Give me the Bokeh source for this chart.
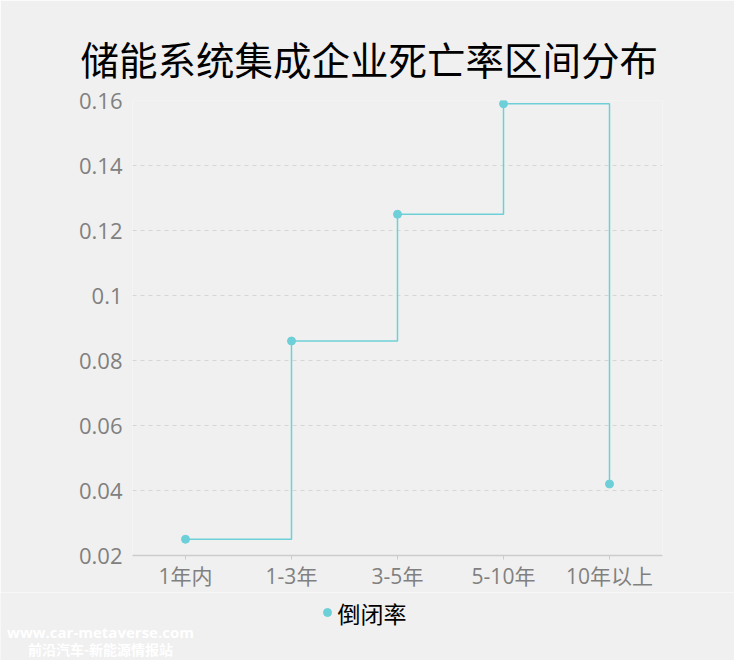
from bokeh.plotting import figure
from bokeh.layouts import column
from bokeh.models import FixedTicker, ColumnDataSource, Range1d, Label
from bokeh.embed import file_html
from bokeh.resources import INLINE

categories = ["1年内", "1-3年", "3-5年", "5-10年", "10年以上"]
rates = [0.025, 0.086, 0.125, 0.159, 0.042]
y_ticks = [0.02, 0.04, 0.06, 0.08, 0.10, 0.12, 0.14, 0.16]
y_tick_labels = ["0.02", "0.04", "0.06", "0.08", "0.1", "0.12", "0.14", "0.16"]
title_text = "储能系统集成企业死亡率区间分布"
series_name = "倒闭率"
watermark = ["www.car-metaverse.com", "前沿汽车-新能源情报站"]

BG = "#f0f0f0"
LINE = "#6dd0d8"
GRAY = "#808080"
FONT = "Open Sans, Noto Sans CJK SC"
CJK = "Noto Sans CJK SC"

p = figure(x_range=categories, y_range=Range1d(0.02, 0.16), width=734, height=592,
           output_backend="svg", toolbar_location=None,
           min_border_left=132, min_border_right=72, min_border_top=100, min_border_bottom=37)
p.frame_align = False
p.background_fill_color = BG
p.border_fill_color = BG
p.outline_line_color = None

src = ColumnDataSource(dict(x=categories, y=rates))
p.step("x", "y", source=src, mode="after", line_color=LINE, line_width=1.5)
p.scatter("x", "y", source=src, size=8, color=LINE)

# axes
p.yaxis.ticker = FixedTicker(ticks=y_ticks)
p.yaxis.major_label_overrides = {t: l for t, l in zip(y_ticks, y_tick_labels)}
p.yaxis.axis_line_color = None
p.yaxis.major_tick_line_color = None
p.yaxis.minor_tick_line_color = None
p.yaxis.major_label_standoff = 4
p.yaxis.major_label_text_font_size = "22px"
p.yaxis.major_label_text_color = GRAY
p.yaxis.major_label_text_font = FONT

p.xaxis.axis_line_color = "#cccccc"
p.xaxis.axis_line_width = 1.5
p.xaxis.major_tick_line_color = "#cccccc"
p.xaxis.major_tick_in = 0
p.xaxis.major_tick_out = 4
p.xaxis.major_label_standoff = 2
p.xaxis.major_label_text_font_size = "21px"
p.xaxis.major_label_text_color = GRAY
p.xaxis.major_label_text_font = FONT

p.xgrid.grid_line_color = None
p.ygrid.ticker = FixedTicker(ticks=y_ticks[1:-1])
p.ygrid.grid_line_color = "#d6d6d6"
p.ygrid.grid_line_dash = "4 4"

# title
p.title.text = title_text
p.title.align = "left"
p.title.offset = -52
p.title.standoff = 30
p.title.text_font_size = "38.5px"
p.title.text_font = CJK
p.title.text_font_style = "normal"
p.title.text_color = "#000000"

# bottom strip: legend + watermark (page y = 592 + (68 - y))
q = figure(width=734, height=68, x_range=Range1d(0, 734), y_range=Range1d(0, 68),
           x_axis_type=None, y_axis_type=None, output_backend="svg", toolbar_location=None,
           min_border=0)
q.frame_align = False
q.background_fill_color = BG
q.border_fill_color = BG
q.outline_line_color = None
q.scatter(x=[327], y=[48], size=8, color=LINE)
q.add_layout(Label(x=337, y=48, text=series_name, text_align="left", text_baseline="middle",
                   text_font_size="23px", text_color="#000000", text_font=CJK))
q.add_layout(Label(x=100, y=29, text=watermark[0], text_align="center", text_baseline="middle",
                   text_font_size="15px", text_font_style="bold", text_color="#ffffff", text_font=FONT))
q.add_layout(Label(x=100, y=12, text=watermark[1], text_align="center", text_baseline="middle",
                   text_font_size="14px", text_font_style="bold", text_color="#ffffff", text_font=CJK))

open("out.html", "w").write(file_html(column(p, q, spacing=0), INLINE))
